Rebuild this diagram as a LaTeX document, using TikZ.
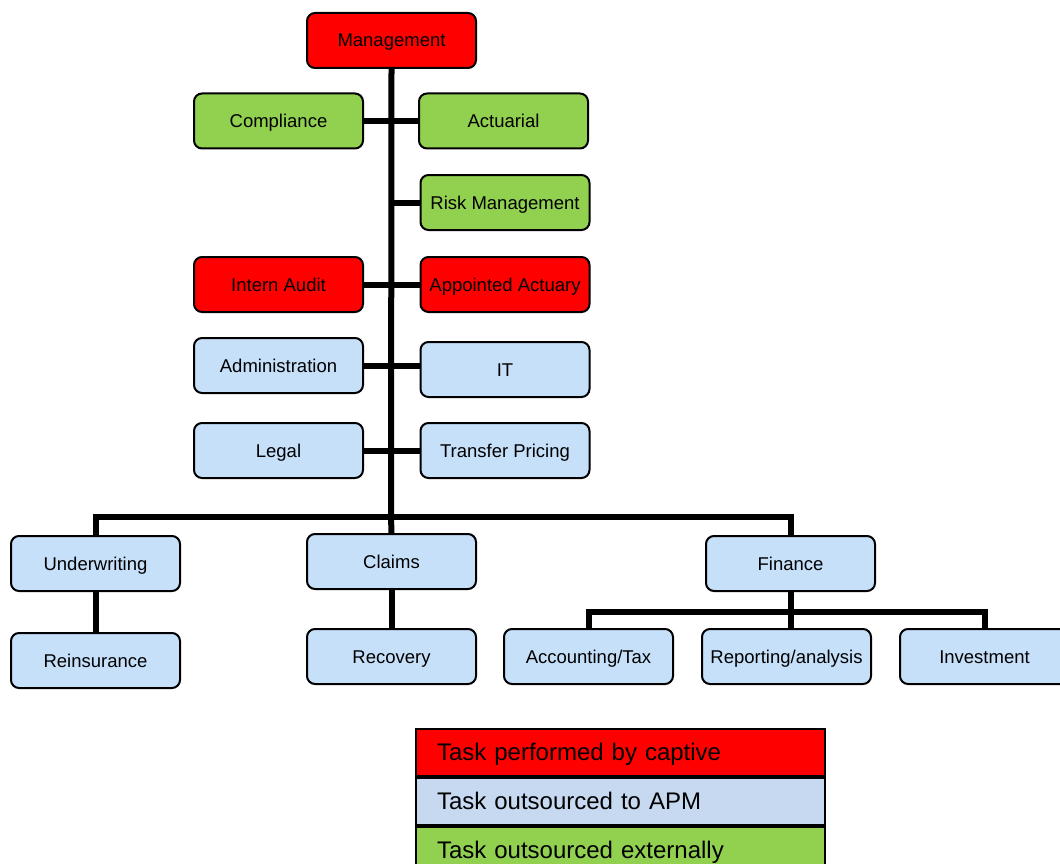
\documentclass[tikz,border=0pt]{standalone}
\usepackage{fontspec}
\setmainfont{Liberation Sans}
\usetikzlibrary{positioning}

\definecolor{captivered}{RGB}{255,0,0}
\definecolor{apmblue}{RGB}{198,224,249}
\definecolor{extgreen}{RGB}{146,208,80}
\definecolor{legendblue}{RGB}{198,217,241}

\begin{document}
\begin{tikzpicture}[
    x = 1pt, y = -1pt,
    unit/.style = {rectangle, rounded corners=8pt, draw=black, line width=2pt,
                   minimum width=169pt, minimum height=55pt, inner sep=0pt,
                   text height=13pt, text depth=0pt,
                   align=center, font=\fontsize{18.5}{22}\selectfont},
    redbox/.style = {unit, fill=captivered},
    bluebox/.style = {unit, fill=apmblue},
    greenbox/.style = {unit, fill=extgreen},
    key/.style = {rectangle, draw=black, line width=2pt, minimum height=47pt,
                  text width=367pt, inner xsep=21pt, align=left,
                  text height=15pt, text depth=0pt,
                  font=\fontsize{24}{28}\selectfont},
    link/.style = {line width=6pt}
]
\useasboundingbox (0,0) rectangle (1060,864);

% Top
\node[redbox] (mgmt) at (391.5,40.5) {Management};

% Staff functions
\node[greenbox] (compliance) at (278.5,121) {Compliance};
\node[greenbox] (actuarial) at (503.5,121) {Actuarial};
\node[greenbox] (risk) at (505,202.5) {Risk Management};
\node[redbox] (audit) at (278.5,284.5) {Intern Audit};
\node[redbox] (appointed) at (505,284.5) {Appointed Actuary};
\node[bluebox] (admin) at (278.5,365.5) {Administration};
\node[bluebox] (it) at (505,369.5) {IT};
\node[bluebox] (legal) at (278.5,450.5) {Legal};
\node[bluebox] (transfer) at (505,450.5) {Transfer Pricing};

% Line functions
\node[bluebox] (uw) at (95.5,563.5) {Underwriting};
\node[bluebox] (claims) at (391.5,561.5) {Claims};
\node[bluebox] (finance) at (790.5,563.5) {Finance};
\node[bluebox] (reins) at (95.5,660.5) {Reinsurance};
\node[bluebox] (recovery) at (391.5,656.5) {Recovery};
\node[bluebox] (accounting) at (588.5,656.5) {Accounting/Tax};
\node[bluebox, right=27pt of accounting] (reporting) {Reporting/analysis};
\node[bluebox, right=27pt of reporting] (investment) {Investment};

% Legend
\node[key, fill=captivered] (lcaptive) at (620.5,752.5) {Task performed by captive};
\node[key, fill=legendblue, below=0pt of lcaptive] (lapm) {Task outsourced to APM};
\node[key, fill=extgreen, below=0pt of lapm] (lext) {Task outsourced externally};

% Trunk and branches
\coordinate (hub) at (391,517);
\draw[link] (mgmt.south) -- (hub);
\draw[link] (compliance) -- (actuarial);
\draw[link] (risk.west) -- (risk.west -| hub);
\draw[link] (audit) -- (appointed);
\draw[link] (admin.east) -- (admin.east -| it.west);
\draw[link] (legal) -- (transfer);
\draw[link] (uw.north) |- (hub) -| (finance.north);
\draw[link] (hub) -- (claims.north);
\draw[link] (uw) -- (reins);
\draw[link] (claims) -- (recovery);

% Finance branch
\coordinate (fhub) at ([yshift=-20pt]finance.south);
\draw[link] (finance.south) -- (fhub);
\draw[link] (accounting.north) |- (fhub) -| (investment.north);
\draw[link] (fhub) -- (fhub |- reporting.north);

\end{tikzpicture}
\end{document}
